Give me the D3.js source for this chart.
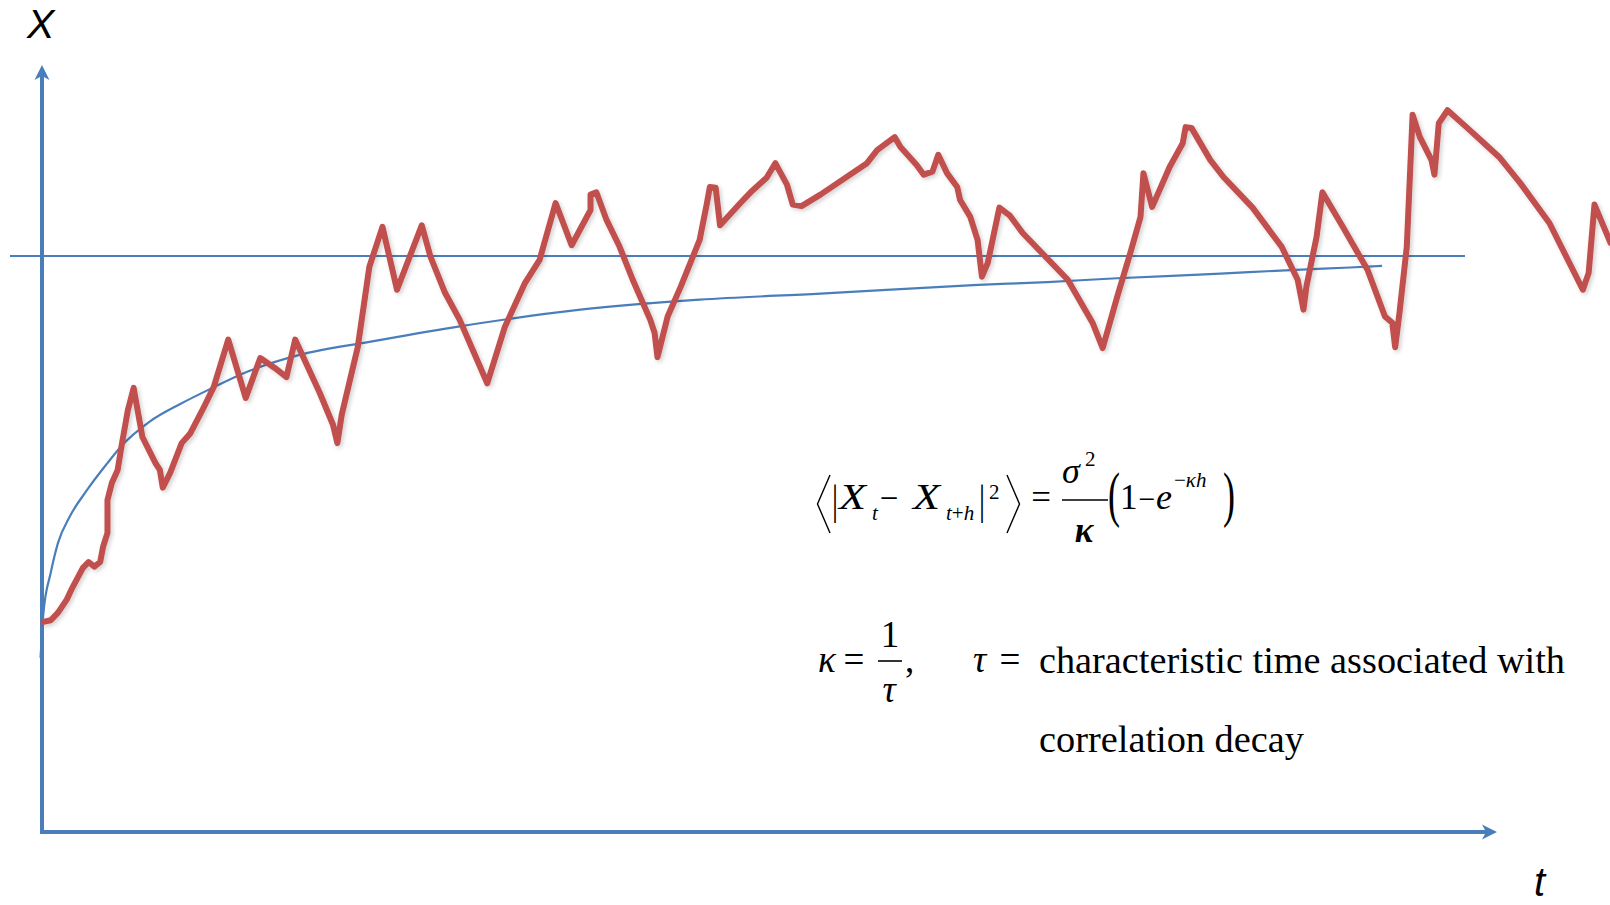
<!DOCTYPE html>
<html><head><meta charset="utf-8">
<script src="https://cdn.jsdelivr.net/npm/d3@7"></script>
<style>body{margin:0;background:#fff;} svg{display:block;}</style>
</head><body>
<svg id="chart" width="1610" height="905"></svg>
<script>
// ---- data (t in 0..100 along the time axis, X in 0..100 along the vertical axis)
const redT = [0.1,0.6,1.1,1.7,2.1,2.8,3.2,3.6,4.0,4.2,4.5,4.5,4.8,5.2,5.5,5.9,6.3,6.9,7.8,8.1,8.3,8.8,9.6,10.2,11.1,11.8,12.8,14.0,15.0,16.0,16.8,17.4,19.1,20.0,20.3,20.6,21.7,22.5,23.4,24.4,26.1,26.7,27.7,28.7,30.6,31.8,33.2,34.2,35.3,36.4,37.7,37.7,38.1,38.8,39.7,40.6,41.8,42.1,42.3,43.0,43.9,45.2,45.7,45.9,46.3,46.6,48.0,48.7,49.8,50.4,51.2,51.6,52.2,53.5,56.7,57.4,58.6,59.0,60.1,60.6,61.2,61.6,62.2,62.9,63.1,63.8,64.3,64.6,65.0,65.8,66.5,67.4,70.5,72.2,72.9,73.9,74.8,75.5,75.7,76.3,77.5,78.4,78.6,79.0,80.3,81.2,83.2,85.2,86.3,86.7,86.9,87.6,88.0,89.4,91.1,92.3,92.8,93.0,93.3,93.8,94.2,94.7,95.5,95.7,96.0,96.6,97.9,99.0,100.2,101.6,103.6,105.9,106.3,106.7,107.8];
const redX = [27.4,27.6,28.6,30.3,31.9,34.4,35.2,34.6,35.2,37.2,39.0,43.3,45.5,47.2,50.7,55.0,57.9,51.5,48.1,47.2,44.9,46.8,50.7,52.0,55.3,58.0,64.2,56.6,61.8,60.5,59.3,64.2,57.2,53.1,50.7,54.4,63.2,73.7,78.9,70.7,79.1,75.0,70.3,66.8,58.5,65.8,71.6,74.6,82.0,76.5,81.1,83.1,83.4,79.8,76.3,72.0,66.8,65.1,61.9,67.2,71.1,77.2,82.0,84.1,84.0,79.1,82.0,83.4,85.3,87.2,84.4,81.8,81.6,83.1,87.2,88.9,90.6,89.3,87.0,85.7,86.1,88.3,85.9,84.1,82.4,80.2,77.2,72.4,74.2,81.4,80.4,78.1,72.0,66.4,63.1,69.8,75.5,80.2,85.9,81.5,86.7,89.8,91.9,91.8,87.6,85.4,81.4,76.3,72.0,68.1,71.1,77.6,83.4,78.9,73.3,67.2,66.4,63.2,67.7,76.3,93.5,90.6,87.6,85.7,92.4,94.1,91.9,90.0,87.9,84.6,79.4,70.7,72.9,81.8,76.8];
const meanT = [-0.1,0.1,0.6,1.1,1.9,3.1,4.5,5.4,7.4,9.5,11.6,14.1,17.7,22.5,28.3,37.0,45.2,53.5,64.0,69.1,73.9,81.0,85.1,89.9,92.1];
const meanX = [22.7,28.6,33.8,37.7,41.1,44.6,48.1,50.2,53.5,55.8,57.8,60.0,62.2,63.9,65.8,68.1,69.4,70.2,71.3,71.7,72.2,72.8,73.2,73.6,73.8];
const levelX = 75.1;
const levelT = [-2.2, 97.8];
const axisT = [0, 100];
const axisX = [0, 100];
const axisNames = ["X", "t"];

const RED = "#C0504D", BLUE = "#4A7EBB";
const svg = d3.select("#chart");
const x = d3.scaleLinear().domain([0, 100]).range([42, 1497]);
const y = d3.scaleLinear().domain([0, 100]).range([832, 65]);

const defs = svg.append("defs");
const f = defs.append("filter").attr("id","sh").attr("x","-5%").attr("y","-5%").attr("width","110%").attr("height","110%");
f.append("feDropShadow").attr("dx",2).attr("dy",2).attr("stdDeviation",2.2)
 .attr("flood-color","#000").attr("flood-opacity",0.18);

// axes
const ax = svg.append("g");
ax.append("line").attr("x1", x(axisT[0])).attr("x2", x(axisT[0]))
  .attr("y1", y(axisX[0])).attr("y2", y(axisX[1]) + 10)
  .attr("stroke", BLUE).attr("stroke-width", 4);
ax.append("line").attr("x1", x(axisT[0]) - 2).attr("x2", x(axisT[1]) - 10)
  .attr("y1", y(axisX[0])).attr("y2", y(axisX[0]))
  .attr("stroke", BLUE).attr("stroke-width", 4);
const ux = x(axisT[0]), uy = y(axisX[1]);
ax.append("path").attr("fill", BLUE)
  .attr("d", `M${ux},${uy} L${ux+7.5},${uy+15} L${ux},${uy+11} L${ux-7.5},${uy+15} Z`);
const rx = x(axisT[1]), ry = y(axisX[0]);
ax.append("path").attr("fill", BLUE)
  .attr("d", `M${rx},${ry} L${rx-15},${ry-7.5} L${rx-11},${ry} L${rx-15},${ry+7.5} Z`);

// stationary level
svg.append("line")
  .attr("x1", x(levelT[0])).attr("x2", x(levelT[1]))
  .attr("y1", y(levelX)).attr("y2", y(levelX))
  .attr("stroke", BLUE).attr("stroke-width", 2.2);

// mean curve
const meanData = meanT.map((t,i)=>[t, meanX[i]]);
svg.append("path").datum(meanData)
  .attr("d", d3.line().x(d=>x(d[0])).y(d=>y(d[1])).curve(d3.curveMonotoneX))
  .attr("fill","none").attr("stroke", BLUE).attr("stroke-width", 2.2);

// sample path
const redData = redT.map((t,i)=>[t, redX[i]]);
svg.append("path").datum(redData)
  .attr("d", d3.line().x(d=>x(d[0])).y(d=>y(d[1])))
  .attr("fill","none").attr("stroke", RED).attr("stroke-width", 6)
  .attr("stroke-linejoin","round").attr("stroke-linecap","round")
  .attr("filter","url(#sh)");

// axis labels
svg.append("text").text(axisNames[0]).attr("x", 27).attr("y", 38)
  .attr("font-family","Liberation Sans, Arial, sans-serif").attr("font-style","italic")
  .attr("font-size", 41).attr("fill","#000");
svg.append("text").text(axisNames[1]).attr("x", 1534).attr("y", 896)
  .attr("font-family","Liberation Sans, Arial, sans-serif").attr("font-style","italic")
  .attr("font-size", 40).attr("fill","#000");

// formulas
const serif = "Liberation Serif, Times New Roman, serif";
const fg = svg.append("g").attr("font-family", serif).attr("fill", "#000");
function T(str, xx, yy, size, italic, anchor){
  return fg.append("text").text(str).attr("x", xx).attr("y", yy).attr("font-size", size)
    .attr("font-style", italic ? "italic" : "normal").attr("text-anchor", anchor || "start");
}
function TS(str, xx, yy, size, sy, anchor){
  return fg.append("text").text(str).attr("transform", `translate(${xx},${yy}) scale(1,${sy})`)
    .attr("font-size", size).attr("text-anchor", anchor || "start");
}
// < |X_t - X_{t+h}|^2 > = sigma^2/kappa (1 - e^{-kappa h})
fg.append("path").attr("d","M830,475 L817.5,504 L830,533").attr("fill","none").attr("stroke","#000").attr("stroke-width",1.4);
TS("|", 835, 514, 30, 1.4, "middle");
T("X", 839, 509, 36, true).attr("textLength", 27).attr("lengthAdjust","spacingAndGlyphs");
T("t", 872, 520, 21, true);
T("\u2212", 889, 509, 33, false, "middle");
T("X", 913, 509, 36, true).attr("textLength", 27).attr("lengthAdjust","spacingAndGlyphs");
const sub = T("", 946, 520, 21, true);
sub.append("tspan").text("t");
sub.append("tspan").text("+").attr("font-style","normal");
sub.append("tspan").text("h");
TS("|", 982, 514, 30, 1.4, "middle");
T("2", 989, 499, 21, false);
fg.append("path").attr("d","M1007,475 L1019.5,504 L1007,533").attr("fill","none").attr("stroke","#000").attr("stroke-width",1.4);
T("=", 1041, 509, 35, false, "middle");
T("\u03C3", 1062, 483, 36, true);
T("2", 1085, 466, 21, false);
fg.append("line").attr("x1",1062).attr("x2",1108).attr("y1",500).attr("y2",500).attr("stroke","#000").attr("stroke-width",1.6);
T("\u03BA", 1084, 542, 35, true, "middle").attr("font-weight","bold");
TS("(", 1108, 515, 36, 1.7);
T("1", 1120, 509, 35, false);
T("\u2212", 1147, 509, 30, false, "middle");
T("e", 1156, 509, 36, true);
const sup = T("", 1174, 487, 21, true);
sup.append("tspan").text("\u2212").attr("font-style","normal");
sup.append("tspan").text("\u03BAh");
TS(")", 1223, 515, 36, 1.7);

// kappa = 1/tau, tau = ...
T("\u03BA", 818, 672, 37, true);
T("=", 854, 672, 37, false, "middle");
T("1", 890, 647, 37, false, "middle");
fg.append("line").attr("x1",878).attr("x2",902).attr("y1",661).attr("y2",661).attr("stroke","#000").attr("stroke-width",1.6);
T("\u03C4", 889, 702, 37, true, "middle");
T(",", 905, 672, 37, false);
T("\u03C4", 973, 672, 37, true);
T("=", 1010, 672, 37, false, "middle");
T("characteristic time associated with", 1039, 673, 38, false).attr("textLength", 526).attr("lengthAdjust","spacingAndGlyphs");
T("correlation decay", 1039, 752, 38, false).attr("textLength", 265).attr("lengthAdjust","spacingAndGlyphs");
</script>
</body></html>
